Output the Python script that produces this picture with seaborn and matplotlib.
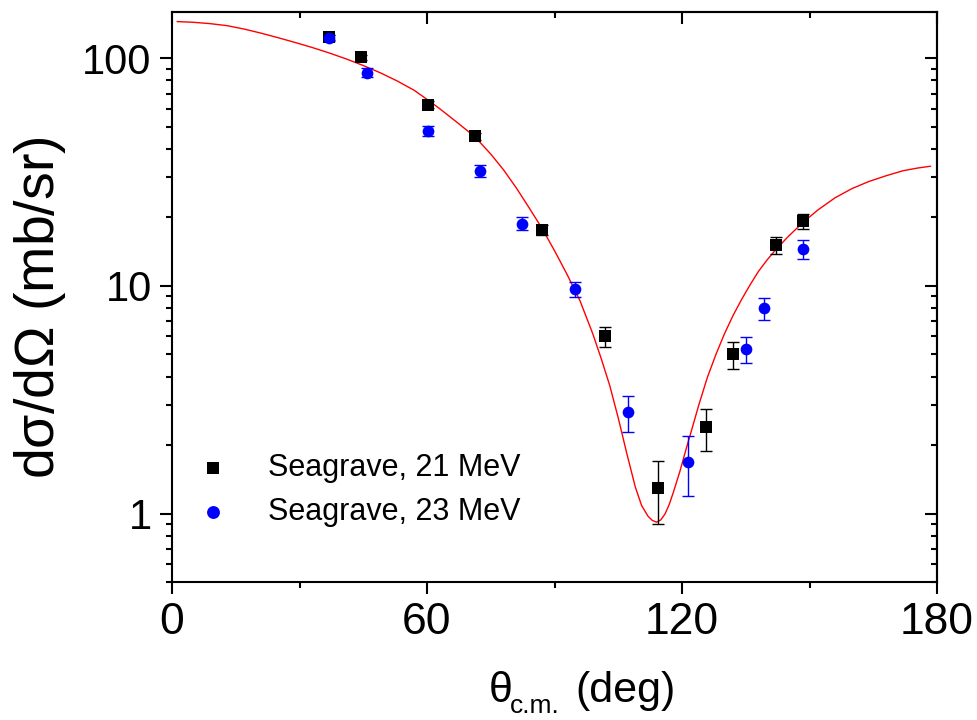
import matplotlib
matplotlib.use("Agg")
import matplotlib.pyplot as plt
from matplotlib.ticker import FixedLocator, LogLocator, NullFormatter, FixedFormatter
import seaborn as sns

# Measured differential cross sections, Seagrave, 21 MeV
deg_21 = [36.9, 44.5, 60.3, 71.3, 87.1, 101.8, 114.4, 125.6, 132.1, 142.0, 148.5]
xs_21 = [124, 101, 62.7, 45.5, 17.6, 6.0, 1.30, 2.39, 5.0, 15.1, 19.3]
err_21 = [3.0, 3.0, 2.0, 1.5, 0.9, 0.6, 0.4, 0.5, 0.7, 1.3, 1.5]

# Measured differential cross sections, Seagrave, 23 MeV
deg_23 = [36.9, 45.8, 60.3, 72.5, 82.3, 94.8, 107.4, 121.5, 135.0, 139.2, 148.5]
xs_23 = [123, 86.5, 48.0, 32.1, 18.8, 9.7, 2.79, 1.69, 5.28, 7.98, 14.5]
err_23 = [4.0, 4.0, 2.5, 2.0, 1.2, 0.75, 0.5, 0.5, 0.7, 0.9, 1.35]

# Calculated angular distribution
calc_deg = [1.2, 5, 9, 13, 17, 21, 25, 29, 33, 37, 41, 45, 49, 53, 57, 60.3, 63, 67,
            71.3, 75, 78, 81, 84, 87, 90, 93, 96, 99, 101, 103, 105, 107, 109,
            110.5, 112, 113, 114, 115, 116, 117, 118, 119.5, 121, 122.5, 124, 126,
            128, 130, 132, 134, 136, 138, 140, 142, 145, 148.5, 152, 156, 160, 164,
            168, 172, 175.5, 178.5]
calc_xs = [145.2, 144.2, 142.2, 139.3, 134.6, 129.1, 123.3, 117.5, 111.7, 105.7,
           99.5, 93.1, 86.5, 79.6, 72.4, 65.5, 60.1, 52.5, 45.2, 38.0, 32.4, 27.0,
           22.1, 18.0, 14.3, 11.2, 8.61, 6.17, 4.79, 3.65, 2.63, 1.84, 1.31, 1.084,
           0.973, 0.933, 0.916, 0.937, 0.995, 1.096, 1.245, 1.53, 1.93, 2.41, 3.02,
           3.98, 5.01, 6.17, 7.41, 8.71, 10.1, 11.6, 13.0, 14.4, 16.5, 19.05, 21.6,
           24.4, 26.8, 28.8, 30.5, 32.1, 33.0, 33.6]

x_major = [0, 60, 120, 180]
x_minor = [30, 90, 150]
y_major = [1, 10, 100]
y_major_labels = ["1", "10", "100"]

sns.set_theme(style="ticks")
plt.rcParams["font.family"] = ["Liberation Sans", "DejaVu Sans"]
plt.rcParams["mathtext.fontset"] = "custom"
plt.rcParams["mathtext.rm"] = "Liberation Sans"
plt.rcParams["mathtext.it"] = "Liberation Sans"
plt.rcParams["axes.linewidth"] = 1.5
for key in ["text.color", "axes.labelcolor", "xtick.color", "ytick.color",
            "axes.edgecolor", "xtick.labelcolor", "ytick.labelcolor"]:
    plt.rcParams[key] = "black"

fig = plt.figure(figsize=(9.78, 7.2), dpi=100)
ax = fig.add_axes([172 / 978, 138 / 720, 765 / 978, 570 / 720])
ax.set_facecolor("white")
ax.set_yscale("log")

sns.lineplot(x=calc_deg, y=calc_xs, color="#ff0000", linewidth=1.0, ax=ax,
             sort=False, zorder=2)

ax.errorbar(deg_21, xs_21, yerr=err_21, fmt="none", ecolor="black",
            elinewidth=1.0, capsize=4, capthick=1.0, zorder=3)
ax.errorbar(deg_23, xs_23, yerr=err_23, fmt="none", ecolor="#0000ff",
            elinewidth=1.0, capsize=4, capthick=1.0, zorder=3)
sns.scatterplot(x=deg_21, y=xs_21, marker="s", color="black", s=66,
                linewidth=0, ax=ax, zorder=4, label="Seagrave, 21 MeV")
sns.scatterplot(x=deg_23, y=xs_23, marker="o", color="#0000ff", s=71,
                linewidth=0, ax=ax, zorder=4, label="Seagrave, 23 MeV")

ax.set_xlim(0, 180)
ax.set_ylim(0.5, 160)

ax.xaxis.set_major_locator(FixedLocator(x_major))
ax.xaxis.set_minor_locator(FixedLocator(x_minor))
ax.yaxis.set_major_locator(FixedLocator(y_major))
ax.yaxis.set_major_formatter(FixedFormatter(y_major_labels))
ax.yaxis.set_minor_locator(LogLocator(base=10, subs=[2, 3, 4, 5, 6, 7, 8, 9]))
ax.yaxis.set_minor_formatter(NullFormatter())

ax.tick_params(axis="both", which="major", direction="out", length=8.6,
               width=1.5, color="black")
ax.tick_params(axis="both", which="minor", direction="out", length=4.3,
               width=1.5, color="black")
ax.tick_params(axis="y", which="major", labelsize=30, pad=6)
ax.tick_params(axis="x", which="major", labelsize=32, pad=6)

for s in ax.spines.values():
    s.set_visible(True)
    s.set_linewidth(1.5)
    s.set_color("black")

# Mirrored inward ticks on the top and right edges
top = ax.secondary_xaxis("top")
top.xaxis.set_major_locator(FixedLocator(x_major))
top.xaxis.set_minor_locator(FixedLocator(x_minor))
top.tick_params(which="major", direction="in", length=8.6, width=1.5, labeltop=False)
top.tick_params(which="minor", direction="in", length=4.3, width=1.5)
top.spines["top"].set_linewidth(1.5)

right = ax.secondary_yaxis("right")
right.yaxis.set_major_locator(FixedLocator(y_major))
right.yaxis.set_minor_locator(LogLocator(base=10, subs=[2, 3, 4, 5, 6, 7, 8, 9]))
right.yaxis.set_major_formatter(NullFormatter())
right.yaxis.set_minor_formatter(NullFormatter())
right.tick_params(which="major", direction="in", length=8.6, width=1.5)
right.tick_params(which="minor", direction="in", length=4.3, width=1.5)
right.spines["right"].set_linewidth(1.5)

ax.set_ylabel(r"d$\sigma$/d$\Omega$ (mb/sr)", fontsize=40)
ax.yaxis.set_label_coords(-0.136, 0.482)

# x label: theta with a low-set "c.m." subscript, followed by the unit
label_base_y = -(702 - 582) / 570
ax.set_xlabel("(deg)", fontsize=31, ha="left", va="baseline")
ax.xaxis.set_label_coords((575 - 172) / 765, label_base_y)
ax.text((489 - 172) / 765, label_base_y, "\u03b8", transform=ax.transAxes,
        fontsize=31, ha="left", va="baseline")
ax.text((510 - 172) / 765, -(713 - 582) / 570, "c.m.", transform=ax.transAxes,
        fontsize=19, ha="left", va="baseline")

leg = ax.legend(loc="center left", bbox_to_anchor=(0.021, 0.162), frameon=False,
                fontsize=22, handlelength=1.0, handletextpad=1.3,
                labelspacing=0.45, borderpad=0, borderaxespad=0.3,
                markerscale=1.1)

fig.savefig("out.png", dpi=100, facecolor="white")
